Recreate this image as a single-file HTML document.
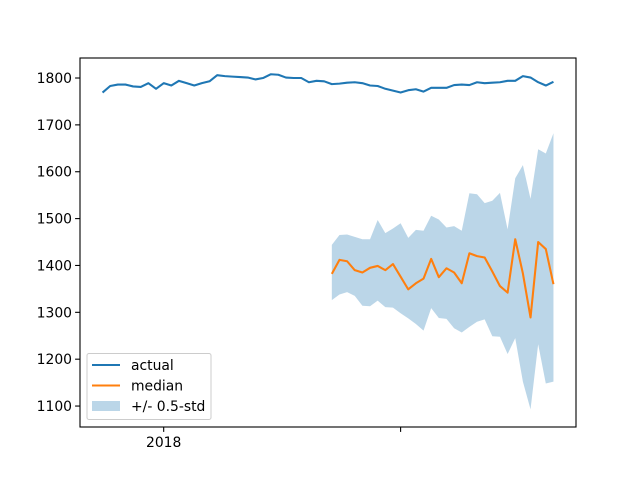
<!DOCTYPE html>
<html><head><meta charset="utf-8"><style>
body{margin:0;background:#fff;}
svg text{font-family:"DejaVu Sans","Liberation Sans",sans-serif;font-size:13.9px;fill:#000;}
</style></head><body>
<svg id="chart" width="640" height="480" xmlns="http://www.w3.org/2000/svg">
<rect width="640" height="480" fill="#fff"/>
<g id="plot"></g>
</svg>
<script>
const actual = [1769,1783,1786,1786,1782,1781,1789,1777,1789,1784,1794,1789,1784,1789,1793,1806,1804,1803,1802,1801,1797,1800,1808,1807,1801,1800,1800,1791,1794,1793,
1787,1788,1790,1791,1789,1784,1783,1777,1773,1769,1774,1776,1771,1779,1779,1779,1785,1786,1785,1791,1789,1790,1791,1794,1794,1804,1801,1791,1784,1792];
const median = [1382,1412,1409,1390,1385,1395,1399,1390,1403,1376,1349,1362,1372,1414,1375,1394,1385,1362,1426,1420,1417,1387,1356,1342,1456,1383,1289,1450,1435,1360];
const upper = [1444,1465,1466,1461,1456,1456,1497,1469,1479,1490,1459,1476,1474,1506,1498,1481,1484,1474,1554,1552,1533,1538,1555,1477,1586,1614,1542,1648,1639,1682];
const lower = [1326,1338,1343,1335,1314,1313,1325,1311,1310,1298,1287,1275,1261,1309,1288,1286,1266,1257,1269,1280,1285,1249,1248,1211,1245,1152,1093,1232,1148,1152];
const forecastStart = 30;
const yTicks = [1100,1200,1300,1400,1500,1600,1700,1800];
const xTickIdx = [8,39];
const xTickLabels = ["2018",""];

const L=80,R=576,T=58,B=427;
const xMin=-2.95,xMax=61.95,yMin=1055.3,yMax=1842.7;
const X=i=>L+(i-xMin)/(xMax-xMin)*(R-L);
const Y=v=>B-(v-yMin)/(yMax-yMin)*(B-T);
const NS="http://www.w3.org/2000/svg";
const g=document.getElementById('plot');
function mk(t,a){const e=document.createElementNS(NS,t);for(const k in a)e.setAttribute(k,a[k]);g.appendChild(e);return e;}

let pts=upper.map((v,i)=>X(forecastStart+i)+','+Y(v));
pts=pts.concat(lower.map((v,i)=>X(forecastStart+i)+','+Y(v)).reverse());
const band=mk('polygon',{points:pts.join(' '),fill:'#1f77b4','fill-opacity':0.3});



const la=mk('polyline',{points:actual.map((v,i)=>X(i)+','+Y(v)).join(' '),fill:'none',stroke:'#1f77b4','stroke-width':2.08,'stroke-linejoin':'round'});


const lm=mk('polyline',{points:median.map((v,i)=>X(forecastStart+i)+','+Y(v)).join(' '),fill:'none',stroke:'#ff7f0e','stroke-width':2.08,'stroke-linejoin':'round'});



const frame=mk('rect',{x:L,y:T,width:R-L,height:B-T,fill:'none',stroke:'#000','stroke-width':1.1});



yTicks.forEach(v=>{
  const y=Y(v);
  mk('line',{x1:L-4.9,x2:L,y1:y,y2:y,stroke:'#000','stroke-width':1.1});
  const t=mk('text',{x:L-8,y:y+5,'text-anchor':'end'});t.textContent=v;
  
  
});
xTickIdx.forEach((i,k)=>{
  const x=X(i);
  mk('line',{x1:x,x2:x,y1:B,y2:B+4.9,stroke:'#000','stroke-width':1.1});
  if(xTickLabels[k]){const t=mk('text',{x:x,y:B+20,'text-anchor':'middle'});t.textContent=xTickLabels[k];
  
  }
});

const lg=mk('rect',{x:87,y:353.5,width:124,height:66,rx:2,fill:'#fff','fill-opacity':0.8,stroke:'#ccc','stroke-width':1});


const items=[["actual","#1f77b4","line"],["median","#ff7f0e","line"],["+/- 0.5-std","#1f77b4","patch"]];
items.forEach((it,k)=>{
  const y=365+k*20.5;
  if(it[2]==="line") mk('line',{x1:92,x2:120,y1:y,y2:y,stroke:it[1],'stroke-width':2.08});
  else mk('rect',{x:92,y:y-5,width:28,height:10,fill:it[1],'fill-opacity':0.3});
  const t=mk('text',{x:131,y:y+5});t.textContent=it[0];
  
  
});
</script>
</body></html>
